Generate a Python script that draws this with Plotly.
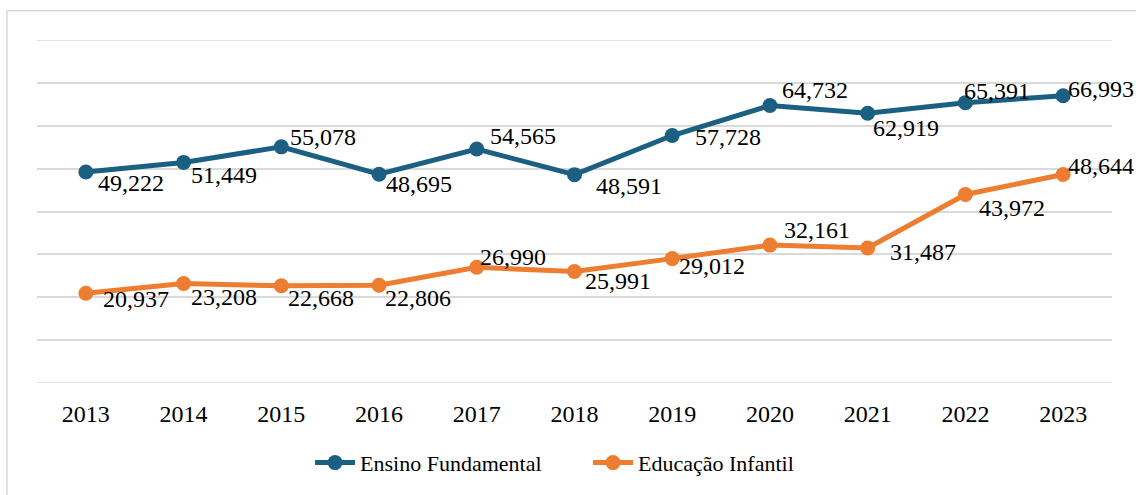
import plotly.graph_objects as go

years = ["2013", "2014", "2015", "2016", "2017", "2018", "2019", "2020", "2021", "2022", "2023"]
fundamental = [49222, 51449, 55078, 48695, 54565, 48591, 57728, 64732, 62919, 65391, 66993]
infantil = [20937, 23208, 22668, 22806, 26990, 25991, 29012, 32161, 31487, 43972, 48644]

# label offsets (px) from each point: (dx, dy down)
off_fund = [(45, 11), (40, 13), (42, -10), (40, 10), (46, -13), (54, 11), (56, 2), (45, -15), (38, 15), (32, -12), (38, -7)]
off_inf = [(50, 6), (40, 13), (40, 12), (39, 13), (36, -10), (43, 9), (40, 7), (47, -15), (55, 4), (47, 14), (38, -8)]

BLUE = "#1B6083"
ORANGE = "#ED7D31"
FONT = "Liberation Serif, Times New Roman, serif"
FS = 24
GRID = "#D9D9D9"

fig = go.Figure()
fig.add_trace(go.Scatter(x=years, y=fundamental, name="Ensino Fundamental", mode="lines+markers",
                         line=dict(color=BLUE, width=5), marker=dict(color=BLUE, size=15)))
fig.add_trace(go.Scatter(x=years, y=infantil, name="Educação Infantil", mode="lines+markers",
                         line=dict(color=ORANGE, width=5), marker=dict(color=ORANGE, size=15)))

annotations = []
for series, offs in ((fundamental, off_fund), (infantil, off_inf)):
    for i, (v, (dx, dy)) in enumerate(zip(series, offs)):
        annotations.append(dict(x=i, y=v, xref="x", yref="y", text=f"{v:,}", showarrow=False,
                                xanchor="center", yanchor="middle",
                                xshift=dx, yshift=-dy, font=dict(family=FONT, size=FS, color="#000000")))

fig.update_layout(
    width=1136, height=495,
    margin=dict(l=37, r=24, t=39.5, b=111),
    paper_bgcolor="white", plot_bgcolor="white",
    font=dict(family=FONT, size=FS, color="#000000"),
    showlegend=True,
    legend=dict(orientation="h", x=0.254, xanchor="left", y=-0.229, yanchor="middle",
                font=dict(family=FONT, size=22, color="#000000"), itemwidth=40,
                entrywidth=223, entrywidthmode="pixels"),
    annotations=annotations,
    xaxis=dict(type="category", range=[-0.5, 10.5], showgrid=False, zeroline=False, showline=False, ticks="",
               ticklabelstandoff=14, tickfont=dict(family=FONT, size=FS, color="#000000")),
    yaxis=dict(range=[0, 80000], dtick=10000, showticklabels=False, showgrid=True, gridcolor=GRID,
               gridwidth=1.5, zeroline=False, showline=False, ticks=""),
    shapes=[
        dict(type="rect", xref="paper", yref="paper", x0=-0.0279, x1=1.2, y0=-0.5, y1=1.0856,
             line=dict(color=GRID, width=1.5), fillcolor="rgba(0,0,0,0)", layer="below"),
        dict(type="line", xref="paper", yref="y", x0=0, x1=1, y0=0, y1=0,
             line=dict(color=GRID, width=1.5), layer="below"),
        dict(type="line", xref="paper", yref="y", x0=0, x1=1, y0=80000, y1=80000,
             line=dict(color=GRID, width=1.5), layer="below"),
    ],
)

fig.write_html("out.html", config={"displayModeBar": False},
               post_script="document.body.style.margin='0px';")
